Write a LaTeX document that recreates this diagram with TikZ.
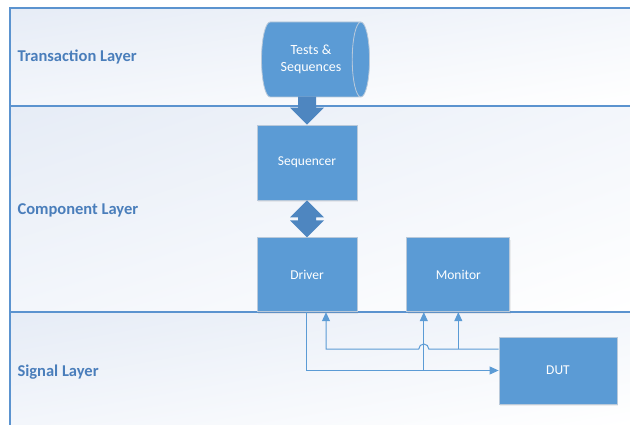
\documentclass[tikz,border=0pt]{standalone}
\usepackage{fontspec}
\setmainfont{Carlito}
\usetikzlibrary{shapes.geometric, arrows.meta, positioning, calc, shadows, shadings}

\definecolor{boxblue}{HTML}{5B9BD5}
\definecolor{arrowblue}{HTML}{4E86C0}
\definecolor{edgegray}{HTML}{B9C9DA}
\definecolor{layertext}{HTML}{4A7EBB}
\definecolor{layerline}{HTML}{5B93CF}
\definecolor{bandtint}{HTML}{E6ECF6}
\definecolor{bandpale}{HTML}{F3F6FB}

\begin{document}
\begin{tikzpicture}[x=1pt, y=-1pt]
    \tikzstyle{block} = [rectangle, fill=boxblue, draw=edgegray, line width=0.8pt, text=white, font=\fontsize{13.5}{16}\selectfont, align=center, inner sep=0pt, drop shadow={opacity=0.12, shadow xshift=1pt, shadow yshift=-2pt}]
    \tikzstyle{store} = [cylinder, shape border rotate=0, aspect=0.6, minimum height=108pt, minimum width=75pt, cylinder uses custom fill, cylinder body fill=boxblue, cylinder end fill=boxblue, draw=edgegray, line width=0.8pt, text=white, font=\fontsize{14}{17}\selectfont, align=center, inner sep=0pt]
    \tikzstyle{layer} = [anchor=west, text=layertext, font=\fontsize{16.5}{19}\selectfont\bfseries]
    \tikzstyle{bigarrow} = [fill=arrowblue]
    \tikzstyle{sig} = [draw=boxblue, line width=1pt, -{Triangle[length=9pt, width=8pt]}]

    \useasboundingbox (0,0) rectangle (630,425);

    % layer bands
    \foreach \ya/\yb in {8/106, 106/312, 312/425}
        \shade[upper left=bandtint, upper right=bandpale, lower left=bandpale, lower right=white] (10,\ya) rectangle (630,\yb);
    \draw[layerline, line width=1.3pt] (10,425) -- (10,8) -- (630,8);
    \draw[layerline, line width=1.3pt] (10,106) -- (630,106);
    \draw[layerline, line width=1.3pt] (10,312) -- (630,312);

    \node (lbltrans) [layer] at (14,57) {Transaction Layer};
    \node (lblcomp) [layer] at (14,210) {Component Layer};
    \node (lblsig) [layer] at (14,372) {Signal Layer};

    \node (tests) [store] at (311,59.5) {Tests \&\\Sequences};
    \node (seq) [block, minimum width=100pt, minimum height=75pt] at (307,162.5) {Sequencer};
    \node (drv) [block, below=37pt of seq, minimum width=100pt, minimum height=74pt] {Driver};
    \node (mon) [block, right=49pt of drv, minimum width=103pt, minimum height=74pt] {Monitor};
    \node (dut) [block, minimum width=118pt, minimum height=67pt] at (558,370.5) {DUT};

    \fill[bigarrow] ($(seq.north)+(-9,-28)$) -- ++(18,0) -- ++(0,11) -- ++(8,0) -- (seq.north) -- ++(-17,-17) -- ++(8,0) -- cycle;
    \fill[bigarrow] (seq.south) -- ++(17,17) -- ++(-8,0) -- ++(0,3) -- ++(8,0) -- (drv.north) -- ++(-17,-17) -- ++(8,0) -- ++(0,-3) -- ++(-8,0) -- cycle;

    \coordinate (fork) at ($(mon.south |- dut.west)+(-34.5,0)$);
    \coordinate (back) at ([yshift=21.5pt]dut.west);

    \draw[sig] ([xshift=-1pt]drv.south) |- (dut.west);
    \draw[sig] (fork) -- (fork |- mon.south);
    \draw[sig] (back -| mon.south) -- (mon.south);
    \draw[sig] (back) -- ($(fork |- back)+(5,0)$) arc[start angle=0, end angle=180, radius=5pt] -- ($(drv.south |- back)+(19,0)$) -- ($(drv.south)+(19,0)$);
\end{tikzpicture}
\end{document}
